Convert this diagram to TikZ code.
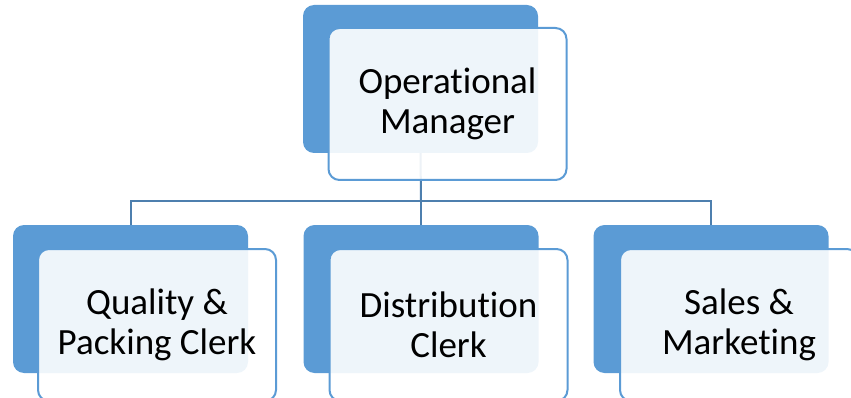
\documentclass[tikz,border=0pt]{standalone}
\usepackage{fontspec}
\setmainfont{Carlito}[RawFeature={-liga;-clig;-calt;-dlig}]
\pgfdeclarelayer{bg}
\pgfsetlayers{bg,main}
\definecolor{backblue}{HTML}{5B9BD5}
\definecolor{linkblue}{HTML}{4D7FAE}
\begin{document}
\begin{tikzpicture}[x=1pt,y=-1pt,
  backbox/.style={draw=none,fill=backblue,rounded corners=11pt,minimum width=235pt,minimum height=148pt,inner sep=0pt,outer sep=0pt},
  frontbox/.style={draw=backblue,line width=2pt,fill=white,fill opacity=0.9,text opacity=1,rounded corners=11pt,minimum width=238pt,minimum height=152pt,inner sep=0pt,outer sep=0pt,align=center,font=\fontsize{37}{40}\selectfont},
  link/.style={draw=linkblue,line width=2pt}]
\useasboundingbox (0,0) rectangle (851,398);
\node[backbox] (topb) at (420.5,79) {};
\node[frontbox] (topf) at (447.5,104) {Operational\\Manager};
\node[backbox] (leftb) at (130.5,299) {};
\node[frontbox] (leftf) at (157,325) {Quality \&\\Packing Clerk};
\node[backbox] (midb) at (421,299) {};
\node[frontbox] (midf) at (448.5,325) {Distribution\\Clerk};
\node[backbox] (rightb) at (711,299) {};
\node[frontbox] (rightf) at (739,325) {Sales \&\\Marketing};
\coordinate (bar) at (421,201);
\begin{pgfonlayer}{bg}
\draw[link] (topb.south) -- (bar);
\draw[link] ([yshift=-3pt]leftb.north) |- (bar) -| ([yshift=-3pt]rightb.north);
\draw[link] (bar) -- ([yshift=-3pt]midb.north);
\end{pgfonlayer}
\end{tikzpicture}
\end{document}
